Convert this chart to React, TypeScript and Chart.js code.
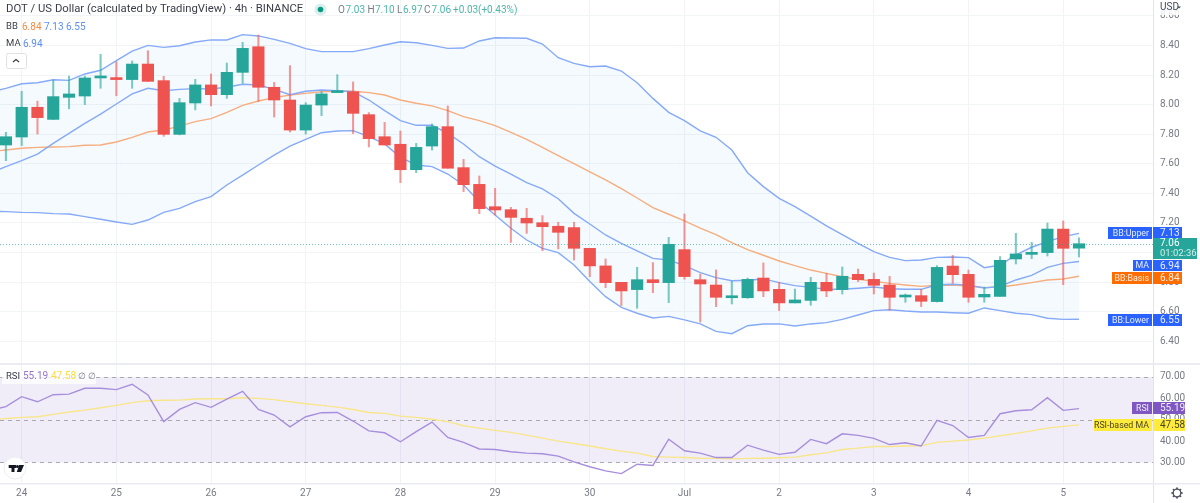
import React, { useEffect, useRef } from "react";
import { Chart, registerables } from "chart.js";

Chart.register(...registerables);

const opens = [7.727,7.781,7.982,7.900,8.049,8.058,8.180,8.182,8.169,8.274,8.162,7.799,8.011,8.133,8.067,8.218,8.391,8.117,8.031,7.828,7.997,8.081,8.087,7.932,7.783,7.732,7.560,7.720,7.851,7.574,7.461,7.310,7.290,7.232,7.202,7.178,7.169,7.029,6.910,6.799,6.750,6.817,6.797,7.020,6.817,6.781,6.695,6.695,6.828,6.752,6.660,6.677,6.799,6.750,6.853,6.819,6.781,6.700,6.709,6.669,6.909,6.853,6.700,6.704,6.957,6.988,7.000,7.159,7.03];
const highs = [7.813,8.090,8.024,8.166,8.193,8.193,8.340,8.290,8.295,8.364,8.191,8.042,8.171,8.207,8.281,8.421,8.470,8.150,8.263,8.013,8.087,8.202,8.153,7.946,7.880,7.822,7.738,7.869,7.991,7.630,7.518,7.434,7.306,7.299,7.250,7.205,7.205,7.029,6.957,6.799,6.901,6.932,7.103,7.261,6.855,6.883,6.806,6.828,6.930,6.799,6.754,6.833,6.860,6.903,6.889,6.862,6.840,6.720,6.752,6.912,6.981,6.882,6.767,6.973,7.130,7.069,7.200,7.214,7.10];
const lows = [7.621,7.723,7.801,7.900,7.972,8.000,8.110,8.060,8.110,8.157,7.786,7.795,7.964,7.991,8.042,8.144,8.022,7.916,7.815,7.801,7.925,8.081,7.804,7.714,7.727,7.473,7.540,7.693,7.570,7.412,7.263,7.254,7.069,7.130,7.013,7.025,6.950,6.837,6.763,6.642,6.624,6.729,6.662,6.820,6.531,6.635,6.653,6.691,6.702,6.608,6.660,6.644,6.702,6.720,6.804,6.720,6.612,6.664,6.635,6.666,6.792,6.664,6.664,6.704,6.923,6.959,6.977,6.783,6.97];
const closes = [7.783,7.982,7.912,8.054,8.072,8.180,8.184,8.169,8.274,8.157,7.799,8.013,8.133,8.067,8.218,8.380,8.117,8.031,7.828,7.997,8.072,8.085,7.941,7.770,7.727,7.560,7.711,7.851,7.570,7.459,7.297,7.288,7.238,7.200,7.175,7.137,7.029,6.910,6.797,6.741,6.817,6.797,7.056,6.838,6.788,6.698,6.700,6.819,6.741,6.660,6.680,6.799,6.741,6.840,6.817,6.779,6.698,6.709,6.671,6.900,6.851,6.698,6.718,6.948,6.991,7.002,7.159,7.029,7.06];

// indicator series start one bar before the first candle (index -1)
const bbUpper = [8.083,8.110,8.141,8.148,8.168,8.164,8.207,8.232,8.297,8.362,8.400,8.387,8.398,8.423,8.437,8.437,8.473,8.464,8.441,8.414,8.378,8.358,8.358,8.358,8.378,8.403,8.425,8.418,8.400,8.380,8.382,8.430,8.452,8.450,8.448,8.409,8.317,8.279,8.256,8.261,8.227,8.148,8.042,7.948,7.892,7.822,7.779,7.693,7.540,7.446,7.367,7.310,7.247,7.180,7.121,7.063,7.006,6.968,6.946,6.950,6.968,6.970,6.966,6.898,6.916,6.984,7.036,7.074,7.108,7.13];
const bbLower = [7.279,7.277,7.272,7.270,7.263,7.261,7.243,7.225,7.207,7.191,7.220,7.272,7.299,7.344,7.378,7.457,7.524,7.592,7.659,7.720,7.765,7.810,7.822,7.824,7.783,7.734,7.644,7.592,7.581,7.531,7.457,7.344,7.254,7.164,7.085,7.029,7.000,6.916,6.804,6.702,6.630,6.590,6.558,6.569,6.545,6.518,6.468,6.452,6.506,6.518,6.518,6.504,6.518,6.527,6.549,6.578,6.608,6.614,6.605,6.599,6.599,6.594,6.590,6.626,6.608,6.590,6.581,6.556,6.549,6.55];
const bbBasis = [7.682,7.693,7.705,7.711,7.714,7.716,7.725,7.727,7.747,7.779,7.815,7.828,7.855,7.885,7.905,7.948,7.995,8.024,8.047,8.065,8.076,8.087,8.090,8.090,8.081,8.065,8.031,8.009,7.991,7.959,7.919,7.892,7.858,7.813,7.765,7.711,7.655,7.601,7.545,7.491,7.432,7.369,7.304,7.259,7.214,7.166,7.121,7.067,7.020,6.982,6.943,6.912,6.882,6.860,6.837,6.819,6.806,6.792,6.781,6.772,6.779,6.781,6.774,6.763,6.768,6.781,6.797,6.815,6.822,6.84];
const maLine = [7.536,7.581,7.621,7.666,7.738,7.806,7.873,7.936,8.004,8.072,8.110,8.094,8.103,8.108,8.105,8.117,8.137,8.132,8.103,8.067,8.090,8.099,8.094,8.087,8.031,7.959,7.892,7.860,7.860,7.806,7.734,7.648,7.585,7.531,7.473,7.430,7.364,7.265,7.193,7.119,7.063,7.011,6.961,6.950,6.912,6.865,6.831,6.810,6.813,6.822,6.797,6.777,6.765,6.752,6.752,6.759,6.768,6.756,6.752,6.752,6.783,6.786,6.779,6.761,6.772,6.815,6.846,6.900,6.927,6.94];
const rsiLine = [54.5,56.1,60.8,58.4,61.7,62.0,64.7,64.7,64.1,66.6,61.6,49.1,54.8,58.0,55.8,59.7,63.3,54.8,52.2,46.7,51.4,53.3,53.4,49.4,44.8,43.9,39.7,44.4,48.9,41.7,39.4,36.3,36.1,35.0,34.4,34.1,33.0,30.3,28.0,26.1,24.8,29.2,28.6,40.9,35.5,34.4,32.3,32.3,38.1,35.8,33.8,34.8,40.8,38.8,43.4,42.7,41.3,38.4,39.2,37.7,49.7,47.3,41.7,42.7,52.8,54.2,54.7,60.3,54.4,55.19];
const rsiMa = [49.8,50.6,51.1,51.4,52.5,53.6,54.5,55.6,56.7,58.0,58.9,59.1,59.2,59.7,59.8,59.8,60.3,60.0,59.4,58.4,57.5,56.7,55.9,54.8,53.4,53.0,51.7,51.1,50.2,49.1,47.2,46.1,45.0,44.1,42.8,41.4,40.0,38.9,37.7,36.4,35.3,34.4,32.8,32.5,32.3,32.0,31.9,31.7,31.9,32.0,32.2,32.5,33.6,34.5,36.1,36.7,37.5,37.5,37.7,37.8,39.4,40.0,40.5,41.4,42.5,43.6,44.8,46.1,46.9,47.58];

const dayTickIndexes = [1,7,13,19,25,31,37,43,49,55,61,67];
const dayLabels = ["24","25","26","27","28","29","30","Jul","2","3","4","5"];
const priceTicks = [6.4,6.6,6.8,7.0,7.2,7.4,7.6,7.8,8.0,8.2,8.4,8.6];
const rsiTicks = [30,40,50,60,70];

const GREEN = "#26a69a";
const RED = "#ef5350";
const FONT = "Roboto, 'Noto Sans', sans-serif";
const XMIN = -0.374;
const XMAX = 72.69;
const AXIS_X = 1153;
const AXIS_TEXT = "#787b86";

type Ctx = CanvasRenderingContext2D;
function put(ctx: Ctx, s: string, x: number, y: number, color: string, size = 10, align: CanvasTextAlign = "left") {
  ctx.fillStyle = color;
  ctx.font = `${size}px ${FONT}`;
  ctx.textAlign = align;
  ctx.textBaseline = "middle";
  ctx.fillText(s, x, y);
}
function tag(ctx: Ctx, label: string, value: string, left: number, top: number, h: number, bg: string, fg: string, valueWidth = 29) {
  ctx.fillStyle = bg;
  ctx.fillRect(left, top, AXIS_X - 1 - left, h);
  ctx.fillRect(AXIS_X, top, valueWidth, h);
  put(ctx, label, AXIS_X - 4, top + h / 2 + 0.5, fg, 8.8, "right");
  put(ctx, value, AXIS_X + 7, top + h / 2 + 0.5, fg, 10);
}

const xScaleBase = (showLabels: boolean, h: number) => ({
  type: "linear" as const,
  min: XMIN,
  max: XMAX,
  offset: false,
  border: { display: false },
  grid: { color: "#f1f3f7", drawTicks: false, offset: false },
  afterBuildTicks: (s: any) => {
    s.ticks = dayTickIndexes.map((value) => ({ value }));
  },
  afterFit: (s: any) => {
    s.height = h;
    s.paddingLeft = 0;
    s.paddingRight = 0;
  },
  ticks: {
    display: showLabels,
    autoSkip: false,
    maxRotation: 0,
    padding: 4,
    color: AXIS_TEXT,
    font: { family: FONT, size: 10 },
    callback: (v: any) => dayLabels[dayTickIndexes.indexOf(Number(v))] ?? "",
  },
});

const yScaleBase = (ticks: number[], min: number, max: number, grid: boolean) => ({
  position: "right" as const,
  min,
  max,
  border: { display: false },
  grid: { display: grid, color: "#f3f4f7", drawTicks: false },
  afterBuildTicks: (s: any) => {
    s.ticks = ticks.map((value) => ({ value }));
  },
  afterFit: (s: any) => {
    s.width = 47;
    s.paddingTop = 0;
    s.paddingBottom = 0;
  },
  ticks: {
    padding: 7,
    color: AXIS_TEXT,
    font: { family: FONT, size: 10 },
    callback: (v: any) => Number(v).toFixed(2),
  },
});

const mainOverlay = {
  id: "mainOverlay",
  afterDraw(chart: any) {
    const ctx: Ctx = chart.ctx;
    const y = chart.scales.y;
    ctx.save();
    // last price line
    ctx.strokeStyle = "rgba(38,166,154,0.65)";
    ctx.setLineDash([1, 2]);
    ctx.lineWidth = 1;
    ctx.beginPath();
    const py = Math.round(y.getPixelForValue(closes[closes.length - 1])) + 0.5;
    ctx.moveTo(0, py);
    ctx.lineTo(AXIS_X, py);
    ctx.stroke();
    ctx.setLineDash([]);
    // scale border + pane separator
    ctx.fillStyle = "#e2e4ea";
    ctx.fillRect(AXIS_X, 0, 1, 364);
    ctx.fillStyle = "#eaecf1";
    ctx.fillRect(0, 363, 1200, 1);
    // USD header
    ctx.fillStyle = "rgba(255,255,255,0.85)";
    ctx.fillRect(AXIS_X + 1, 0, 46, 15);
    put(ctx, "USD", 1160, 7.5, "#3f4a5a", 10);
    ctx.fillStyle = "#3f4a5a";
    ctx.beginPath();
    ctx.moveTo(1177, 6.5);
    ctx.lineTo(1181, 6.5);
    ctx.lineTo(1179, 8.5);
    ctx.fill();
    // header line
    put(ctx, "DOT / US Dollar (calculated by TradingView) · 4h · BINANCE", 6, 9.5, "#3a3e4a", 11.3);
    ctx.fillStyle = "rgba(38,166,154,0.18)";
    ctx.beginPath();
    ctx.arc(320.5, 9.5, 6, 0, Math.PI * 2);
    ctx.fill();
    ctx.fillStyle = "#089981";
    ctx.beginPath();
    ctx.arc(320.5, 9.5, 2.8, 0, Math.PI * 2);
    ctx.fill();
    const g = "#4db6ac";
    const k = "#787b86";
    put(ctx, "O", 338, 10.5, k);
    put(ctx, "7.03", 345.5, 10.5, g);
    put(ctx, "H", 367.5, 10.5, k);
    put(ctx, "7.10", 375, 10.5, g);
    put(ctx, "L", 397, 10.5, k);
    put(ctx, "6.97", 403, 10.5, g);
    put(ctx, "C", 424, 10.5, k);
    put(ctx, "7.06", 431.5, 10.5, g);
    put(ctx, "+0.03", 453, 10.5, g);
    put(ctx, "(+0.43%)", 478, 10.5, g);
    // legends
    put(ctx, "BB", 6, 27, "#3a3e4a", 9.5);
    put(ctx, "6.84", 22, 27, "#f58a42");
    put(ctx, "7.13", 44, 27, "#5b8df6");
    put(ctx, "6.55", 66, 27, "#5b8df6");
    put(ctx, "MA", 6, 44, "#3a3e4a", 9.5);
    put(ctx, "6.94", 23, 44, "#5b8df6");
    ctx.fillStyle = "#fff";
    ctx.strokeStyle = "#dfe1e6";
    ctx.beginPath();
    ctx.roundRect(6.5, 53.5, 20, 15, 2);
    ctx.fill();
    ctx.stroke();
    ctx.strokeStyle = "#3a3e4a";
    ctx.lineWidth = 1.2;
    ctx.beginPath();
    ctx.moveTo(13, 62);
    ctx.lineTo(16, 59.5);
    ctx.lineTo(19, 62);
    ctx.stroke();
    // price tags
    const blue = "#2962ff";
    tag(ctx, "BB:Upper", "7.13", 1108, 227, 12, blue, "#e8eeff");
    ctx.fillStyle = GREEN;
    ctx.fillRect(AXIS_X, 238, 44, 21);
    put(ctx, "7.06", 1160, 243.5, "#fff");
    put(ctx, "01:02:36", 1160, 254, "#d4efeb", 9.5);
    tag(ctx, "MA", "6.94", 1133, 260, 11, blue, "#e8eeff");
    tag(ctx, "BB:Basis", "6.84", 1112, 272, 12, "#ff6d00", "#fff0e4");
    tag(ctx, "BB:Lower", "6.55", 1108, 314, 12, blue, "#e8eeff");
    ctx.restore();
  },
};

const rsiBand = {
  id: "rsiBand",
  beforeDatasetsDraw(chart: any) {
    const ctx: Ctx = chart.ctx;
    const y = chart.scales.y;
    const t = y.getPixelForValue(70);
    const b = y.getPixelForValue(30);
    ctx.save();
    ctx.fillStyle = "rgba(126,87,194,0.11)";
    ctx.fillRect(0, t, AXIS_X, b - t);
    ctx.strokeStyle = "#a9a9b4";
    ctx.lineWidth = 1;
    ctx.setLineDash([4, 4]);
    for (const v of [70, 50, 30]) {
      const p = Math.round(y.getPixelForValue(v)) + 0.5;
      ctx.beginPath();
      ctx.moveTo(0, p);
      ctx.lineTo(AXIS_X, p);
      ctx.stroke();
    }
    ctx.restore();
  },
  afterDraw(chart: any) {
    const ctx: Ctx = chart.ctx;
    ctx.save();
    ctx.fillStyle = "#e2e4ea";
    ctx.fillRect(AXIS_X, 0, 1, 139);
    ctx.fillStyle = "#eaecf1";
    ctx.fillRect(0, 0, 1200, 1);
    ctx.fillRect(0, 119, 1200, 1.5);
    // legend
    ctx.fillStyle = "rgba(255,255,255,0.75)";
    ctx.fillRect(2, 7, 94, 13);
    put(ctx, "RSI", 6, 12.5, "#3a3e4a", 9.5);
    put(ctx, "55.19", 23, 12.5, "#9575cd");
    put(ctx, "47.58", 51, 12.5, "#fbdd45");
    put(ctx, "∅", 78, 12.5, "#787b86", 9);
    put(ctx, "∅", 88, 12.5, "#787b86", 9);
    // tags
    tag(ctx, "RSI", "55.19", 1132, 38, 12, "#7e57c2", "#f0ebfa", 32);
    tag(ctx, "RSI-based MA", "47.58", 1094, 55, 12, "#ffeb3b", "#4a4520", 32);
    // TV badge
    ctx.fillStyle = "#fff";
    ctx.strokeStyle = "#eceef2";
    ctx.beginPath();
    ctx.arc(15, 104, 11, 0, Math.PI * 2);
    ctx.fill();
    ctx.stroke();
    ctx.fillStyle = "#131722";
    ctx.fillRect(8.7, 101, 7.5, 3);
    ctx.fillRect(11.5, 104, 3, 4);
    ctx.beginPath();
    ctx.arc(17.5, 102.5, 1.5, 0, Math.PI * 2);
    ctx.fill();
    ctx.beginPath();
    ctx.moveTo(19.2, 101);
    ctx.lineTo(24, 101);
    ctx.lineTo(21, 108);
    ctx.lineTo(16.8, 108);
    ctx.fill();
    // settings gear
    const cx = 1177;
    const cy = 129;
    ctx.strokeStyle = "#50535e";
    ctx.lineWidth = 1.3;
    ctx.beginPath();
    ctx.arc(cx, cy, 3.8, 0, Math.PI * 2);
    ctx.stroke();
    ctx.lineWidth = 1.8;
    for (let a = 0; a < 8; a++) {
      const r = (a * Math.PI) / 4;
      ctx.beginPath();
      ctx.moveTo(cx + Math.cos(r) * 3.8, cy + Math.sin(r) * 3.8);
      ctx.lineTo(cx + Math.cos(r) * 5.6, cy + Math.sin(r) * 5.6);
      ctx.stroke();
    }
    ctx.restore();
  },
};

const seriesFrom = (values: number[], first: number) => values.map((y, i) => ({ x: first + i, y }));
const lineDs = (label: string, values: number[], color: string, order: number, extra: object = {}) => ({
  type: "line" as const,
  label,
  data: seriesFrom(values, -1),
  borderColor: color,
  borderWidth: 1.4,
  pointRadius: 0,
  tension: 0,
  order,
  ...extra,
});

export default function App() {
  const mainRef = useRef<HTMLCanvasElement>(null);
  const rsiRef = useRef<HTMLCanvasElement>(null);

  useEffect(() => {
    const up = opens.map((o, i) => closes[i] >= o);
    const main = new Chart(mainRef.current!, {
      type: "bar",
      data: {
        datasets: [
          {
            label: "Bodies",
            data: opens.map((o, i) => ({ x: i, y: [o, closes[i]] })),
            backgroundColor: up.map((u) => (u ? GREEN : RED)),
            barThickness: 11.5,
            minBarLength: 2,
            grouped: false,
            order: 0,
          },
          {
            label: "Wicks",
            data: lows.map((l, i) => ({ x: i, y: [l, highs[i]] })),
            backgroundColor: up.map((u) => (u ? "rgba(38,166,154,0.6)" : "rgba(239,83,80,0.6)")),
            barThickness: 1.4,
            grouped: false,
            order: 1,
          },
          lineDs("BB Upper", bbUpper, "#86aaf8", 4, {
            fill: { target: 3, above: "rgba(33,150,243,0.05)", below: "rgba(33,150,243,0.05)" },
          }),
          lineDs("BB Lower", bbLower, "#86aaf8", 5),
          lineDs("BB Basis", bbBasis, "#f7ad7e", 3),
          lineDs("MA", maLine, "#86aaf8", 2),
        ] as any,
      },
      options: {
        responsive: false,
        animation: false,
        events: [],
        layout: { padding: { left: 0, right: 0, top: 0, bottom: 1 } },
        plugins: {
          legend: { display: false },
          tooltip: { enabled: false },
          filler: { drawTime: "beforeDatasetsDraw" },
        },
        scales: {
          x: xScaleBase(false, 0),
          y: yScaleBase(priceTicks, 6.254, 8.7068, true),
        },
      } as any,
      plugins: [mainOverlay],
    });

    const rsi = new Chart(rsiRef.current!, {
      type: "line",
      data: {
        datasets: [
          lineDs("RSI", rsiLine, "#a68fdc", 1),
          lineDs("RSI-based MA", rsiMa, "#f8e68a", 2),
        ] as any,
      },
      options: {
        responsive: false,
        animation: false,
        events: [],
        layout: { padding: 0 },
        plugins: { legend: { display: false }, tooltip: { enabled: false } },
        scales: {
          x: xScaleBase(true, 20),
          y: yScaleBase(rsiTicks, 20.4, 76.08, false),
        },
      } as any,
      plugins: [rsiBand],
    });

    return () => {
      main.destroy();
      rsi.destroy();
    };
  }, []);

  return (
    <div style={{ position: "absolute", left: 0, top: 0, width: 1200, height: 503, background: "#fff", overflow: "hidden" }}>
      <canvas ref={mainRef} width={1200} height={364} style={{ position: "absolute", left: 0, top: 0, display: "block" }} />
      <canvas ref={rsiRef} width={1200} height={139} style={{ position: "absolute", left: 0, top: 364, display: "block" }} />
    </div>
  );
}
